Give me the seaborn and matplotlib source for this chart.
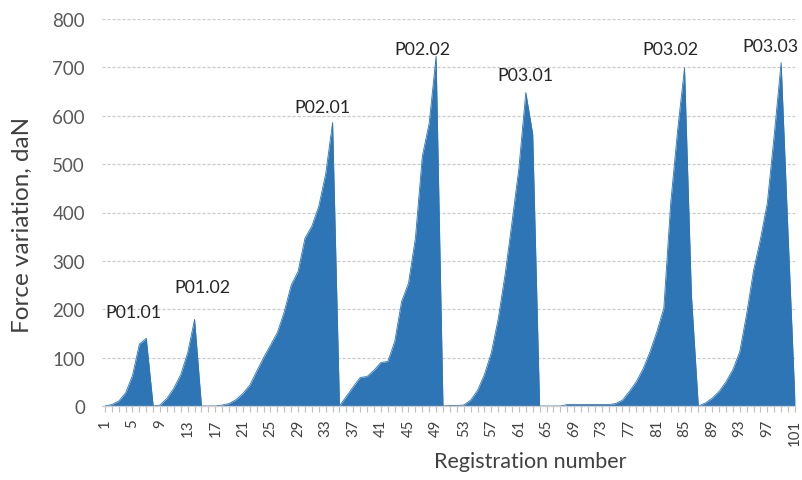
import numpy as np
import pandas as pd
import matplotlib
matplotlib.use("Agg")
import matplotlib.pyplot as plt
import seaborn as sns

# ---------------- data ----------------
registration = list(range(1, 102))
force = [0, 3, 10, 27, 63, 128, 140, 0,
         2, 16, 37, 65, 110, 179, 0,
         0, 0, 2, 5, 13, 26, 43, 72, 100, 126, 152, 195, 250, 278, 347, 372, 413, 480, 586, 0,
         20, 40, 59, 61, 74, 90, 92, 133, 216, 254, 347, 516, 585, 723, 0,
         1, 1, 2, 12, 32, 65, 110, 180, 272, 380, 492, 648, 562, 0,
         0, 0, 0, 3, 3, 3, 3, 3, 3, 3, 5, 12, 30, 50, 77, 112, 154, 202, 420, 570, 699, 230, 0,
         6, 16, 30, 50, 75, 112, 190, 280, 345, 420, 560, 710, 357, 12]
segment_labels = ["P01.01", "P01.02", "P02.01", "P02.02", "P03.01", "P03.02", "P03.03"]
label_x = [5.2, 15.1, 32.5, 47.0, 62.0, 82.9, 97.4]
label_y = [194, 246, 618, 738, 684, 737, 744]
x_tick_values = list(range(1, 102, 4))
y_tick_values = list(range(0, 801, 100))

df = pd.DataFrame({"Registration number": registration, "Force": force})

# ---------------- style ----------------
sns.set_theme(style="white")
plt.rcParams["font.family"] = ["Lato", "DejaVu Sans"]

BLUE = "#2e75b6"

fig = plt.figure(figsize=(8.02, 4.81), dpi=100)
ax = fig.add_axes([101.7 / 802, 1 - 407 / 481, 693.3 / 802, 387 / 481])

ax.fill_between(df["Registration number"], df["Force"], 0, color=BLUE, lw=0, zorder=2)
sns.lineplot(data=df, x="Registration number", y="Force", color=BLUE, lw=0.6, ax=ax, zorder=3)

for t, xx, yy in zip(segment_labels, label_x, label_y):
    ax.text(xx, yy, t, ha="center", va="center", fontsize=12.8, color="#262626", zorder=4)

ax.set_xlim(0.54, 101.01)
ax.set_ylim(0, 800)
ax.set_yticks(y_tick_values)
ax.set_xticks(x_tick_values)
ax.set_xticks(registration, minor=True)
ax.set_xticklabels([str(v) for v in x_tick_values], rotation=90)

ax.yaxis.grid(True, color="#c9c9c9", linestyle=(0, (2.5, 1.5)), lw=0.9, zorder=0)
ax.xaxis.grid(False)
ax.set_axisbelow(True)

for s in ["top", "right", "left"]:
    ax.spines[s].set_visible(False)
ax.spines["bottom"].set_color("#cfcfcf")
ax.spines["bottom"].set_linewidth(0.9)
ax.spines["bottom"].set_zorder(5)

ax.tick_params(axis="x", which="both", bottom=True, length=4, width=0.8, color="#bfbfbf",
               labelsize=10.8, labelcolor="#404040", pad=5, direction="out")
ax.tick_params(axis="y", length=0, pad=12, labelsize=13.5, labelcolor="#595959")

ax.set_xlabel("Registration number", fontsize=15.5, color="#404040")
ax.set_ylabel("Force variation, daN", fontsize=17.5, color="#404040")
ax.xaxis.set_label_coords((530 - 101.7) / 693.3, (407 - 452) / 387)
ax.yaxis.set_label_coords((33 - 101.7) / 693.3, (407 - 225) / 387)

fig.savefig("out.png", dpi=100)
